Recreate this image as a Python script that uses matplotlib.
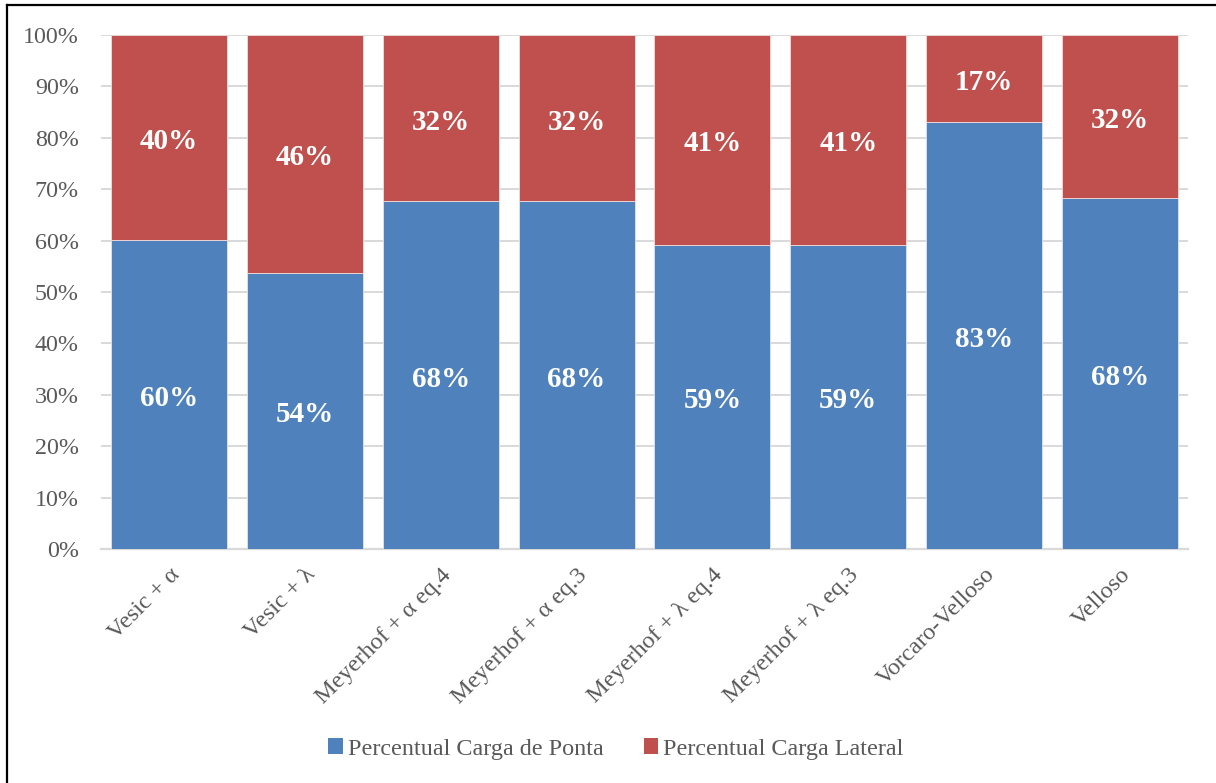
import matplotlib
matplotlib.use("Agg")
import matplotlib.pyplot as plt
from matplotlib.lines import Line2D
from matplotlib.patches import Patch
import numpy as np

categories = ["Vesic + α", "Vesic + λ", "Meyerhof + α eq.4", "Meyerhof + α eq.3",
              "Meyerhof + λ eq.4", "Meyerhof + λ eq.3", "Vorcaro-Velloso", "Velloso"]
ponta = [60.2, 53.7, 67.7, 67.7, 59.2, 59.2, 83.0, 68.3]
lateral = [39.8, 46.3, 32.3, 32.3, 40.8, 40.8, 17.0, 31.7]
series_names = ["Percentual Carga de Ponta", "Percentual Carga Lateral"]
yticks = [0, 10, 20, 30, 40, 50, 60, 70, 80, 90, 100]

BLUE = "#4F81BD"
RED = "#C0504D"
GRAY_TXT = "#595959"

plt.rcParams["font.family"] = ["Liberation Serif", "DejaVu Serif"]

W, H = 1216, 783
fig = plt.figure(figsize=(W / 100, H / 100), dpi=100)
ax = fig.add_axes([101 / W, 1 - 549 / H, (1188 - 101) / W, (549 - 35) / H])

x = np.arange(len(categories))
bw = 0.853
ax.bar(x, ponta, width=bw, color=BLUE, edgecolor="#DCE6F2", linewidth=0.6, zorder=3)
ax.bar(x, lateral, width=bw, bottom=ponta, color=RED, edgecolor="#F2DCDB",
       linewidth=0.6, zorder=3)

for xi, p, l in zip(x, ponta, lateral):
    for yc, v in ((p / 2, p), (p + l / 2, l)):
        ax.annotate(f"{v:.0f}%", (xi, yc), xytext=(0, -4), textcoords="offset pixels",
                    ha="center", va="center", color="white",
                    fontsize=21, fontweight="bold", zorder=4)

ax.set_xlim(-0.5, len(categories) - 0.5)
ax.set_ylim(0, 100)
ax.set_yticks(yticks)
ax.set_yticklabels([f"{t}%" for t in yticks])
ax.set_xticks(x)
ax.set_xticklabels(categories, rotation=45, ha="right", va="top",
                   rotation_mode="anchor")
ax.tick_params(axis="both", length=0, labelsize=17.3, labelcolor=GRAY_TXT)
ax.tick_params(axis="x", labelsize=17.5, pad=11)
ax.tick_params(axis="y", pad=16)
for lbl in ax.get_xticklabels():
    lbl.set_x(lbl.get_position()[0])
ax.grid(axis="y", color="#D9D9D9", linewidth=1.4, zorder=0)
ax.set_axisbelow(True)
for s in ["top", "right", "left"]:
    ax.spines[s].set_visible(False)
ax.spines["bottom"].set_color("#D9D9D9")
ax.spines["bottom"].set_linewidth(1.6)

handles = [Patch(facecolor=BLUE), Patch(facecolor=RED)]
fig.legend(handles, series_names, loc="center", bbox_to_anchor=(616 / W, 1 - 749 / H),
           ncol=2, frameon=False, fontsize=17.4, labelcolor=GRAY_TXT,
           handlelength=0.6, handleheight=0.6, handletextpad=0.2, columnspacing=1.67)

# outer frame
fig.add_artist(Line2D([7 / W, 7 / W], [0, 1 - 5 / H], color="black", linewidth=1.6,
                      transform=fig.transFigure))
fig.add_artist(Line2D([7 / W, 1], [1 - 5 / H, 1 - 5 / H], color="black", linewidth=1.6,
                      transform=fig.transFigure))

fig.savefig("out.png", dpi=100)
